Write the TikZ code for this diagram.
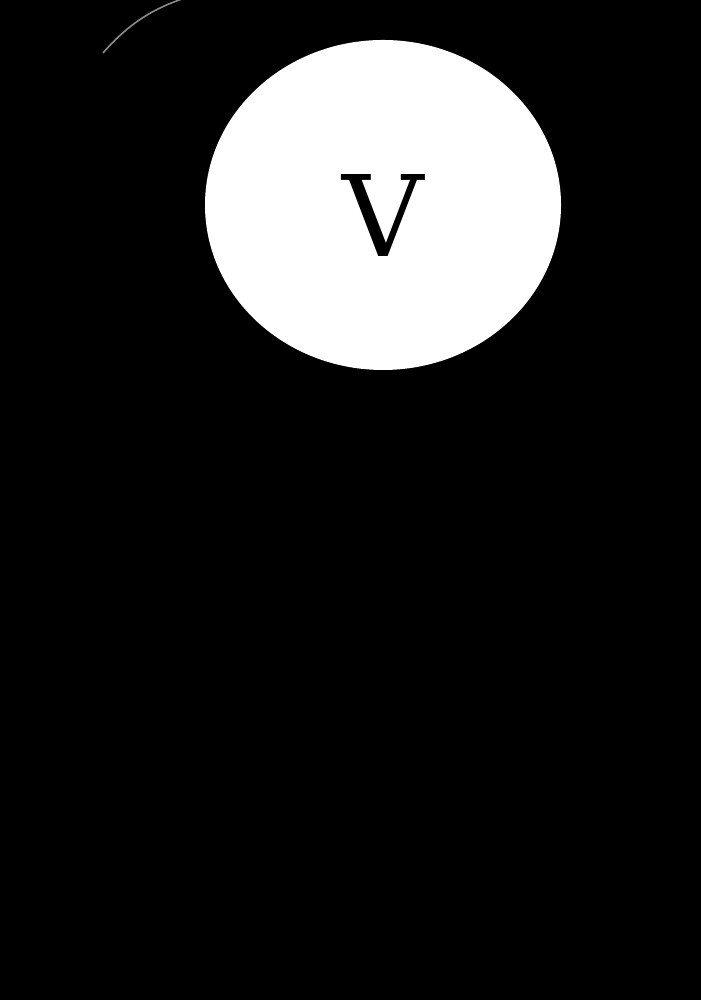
\documentclass[tikz,border=0pt]{standalone}
\usepackage{fontspec}
\setmainfont{DejaVu Serif}
\usetikzlibrary{shapes.geometric}

\tikzset{
  state/.style={ellipse, fill=white, draw=none, inner sep=0pt,
    minimum width=3.56cm, minimum height=3.30cm, text height=29.5pt, text depth=0pt,
    font=\fontsize{32}{38}\selectfont},
  rim/.style={draw=black!45, line width=0.45pt}
}

\begin{document}
\begin{tikzpicture}
      % Define canvas
      \useasboundingbox (0,0) rectangle (7,10);
      \fill[black] (-0.1,-0.1) rectangle (7.1,10.1);
      % Define nodes
      \node[state] (v) at (3.83,7.95) {V};
      \coordinate (r1) at (1.03,9.47);
      \coordinate (r2) at (1.85,10.02);
      % Draw rim
      \draw[rim] (r1) .. controls (1.30,9.78) and (1.55,9.92) .. (r2);
    \end{tikzpicture}
\end{document}
